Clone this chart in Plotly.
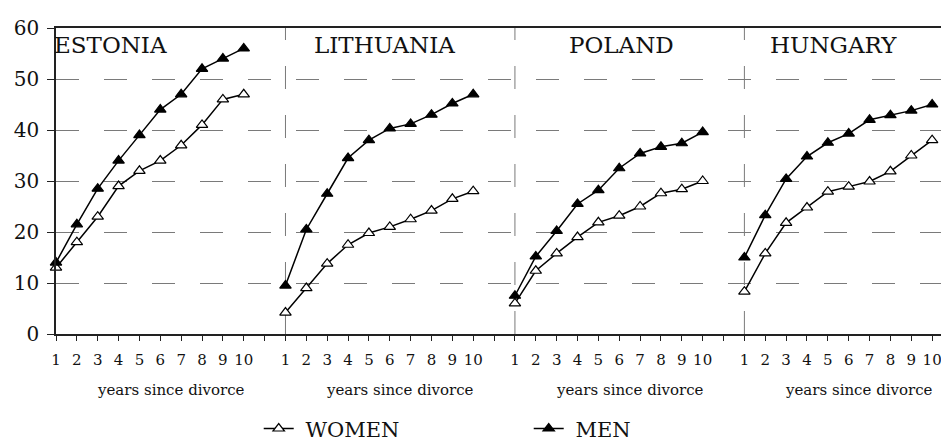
import plotly.graph_objects as go

countries = ["ESTONIA", "LITHUANIA", "POLAND", "HUNGARY"]
years = [1, 2, 3, 4, 5, 6, 7, 8, 9, 10]

men_estonia = [14, 21.5, 28.5, 34, 39, 44, 47, 52, 54, 56]
women_estonia = [13, 18, 23, 29, 32, 34, 37, 41, 46, 47]
men_lithuania = [9.5, 20.5, 27.5, 34.5, 38, 40.3, 41.2, 43, 45.2, 47]
women_lithuania = [4.2, 9, 13.8, 17.5, 19.8, 21, 22.5, 24.2, 26.5, 28]
men_poland = [7.5, 15.2, 20.2, 25.5, 28.2, 32.5, 35.4, 36.7, 37.4, 39.6]
women_poland = [6, 12.4, 15.8, 19, 21.9, 23.2, 25, 27.6, 28.4, 30]
men_hungary = [15, 23.3, 30.4, 34.8, 37.5, 39.3, 42, 42.9, 43.8, 45]
women_hungary = [8.3, 15.8, 21.8, 24.8, 27.9, 28.9, 29.9, 31.9, 35, 38]

y_ticks = [0, 10, 20, 30, 40, 50, 60]
x_title = "years since divorce"

men = [men_estonia, men_lithuania, men_poland, men_hungary]
women = [women_estonia, women_lithuania, women_poland, women_hungary]

STEP = len(years) + 1  # one blank slot between panels
starts = [i * STEP for i in range(len(countries))]


def build(series):
    xs, ys = [], []
    for s, vals in zip(starts, series):
        xs += [s + (yr - 1) for yr in years] + [None]
        ys += list(vals) + [None]
    return xs, ys


FONT = "DejaVu Serif"
fig = go.Figure()
wx, wy = build(women)
mx, my = build(men)
fig.add_trace(go.Scatter(
    x=wx, y=wy, mode="lines+markers", name=" WOMEN",
    line=dict(color="black", width=1.5),
    marker=dict(symbol="triangle-up", size=10, color="white",
                line=dict(color="black", width=1.2)),
    cliponaxis=False, connectgaps=False))
fig.add_trace(go.Scatter(
    x=mx, y=my, mode="lines+markers", name=" MEN",
    line=dict(color="black", width=1.5),
    marker=dict(symbol="triangle-up", size=10, color="black",
                line=dict(color="black", width=1.2)),
    cliponaxis=False, connectgaps=False))

total = starts[-1] + len(years)
tickvals = list(range(0, total + 1))
ticktext = []
for v in tickvals:
    r = v % STEP
    ticktext.append(str(r + 1) if r < len(years) and v < total else "")

shapes = []
for s in starts[1:]:
    shapes.append(dict(type="line", xref="x", yref="y", x0=s, x1=s,
                       y0=y_ticks[0], y1=y_ticks[-1],
                       line=dict(color="#7a7a7a", width=1, dash="23px,26px"),
                       layer="below"))

annotations = []
label_offsets = [0.0, 4.75, 5.1, 4.27]
label_shift = [-4, 0, 0, 0]
for i, (c, s) in enumerate(zip(countries, starts)):
    annotations.append(dict(
        x=s + label_offsets[i], y=56.6, xref="x", yref="y", text=c,
        xshift=label_shift[i],
        showarrow=False, xanchor="left" if i == 0 else "center",
        yanchor="middle", font=dict(family=FONT, size=23, color="#111")))
    annotations.append(dict(
        x=s + 5.5, y=-0.183, xref="x", yref="paper", text=x_title,
        showarrow=False, xanchor="center", yanchor="middle",
        font=dict(family=FONT, size=15, color="#111")))

fig.update_layout(
    width=949, height=443,
    margin=dict(l=48, r=2, t=20, b=100),
    paper_bgcolor="white", plot_bgcolor="white",
    font=dict(family=FONT, color="#111"),
    showlegend=True,
    legend=dict(orientation="h", x=0.226, y=-0.31, xanchor="left",
                yanchor="middle", font=dict(family=FONT, size=21),
                entrywidth=225, entrywidthmode="pixels",
                bgcolor="rgba(0,0,0,0)", itemsizing="trace"),
    xaxis=dict(range=[0, total], tickmode="array", tickvals=tickvals,
               ticktext=ticktext, ticks="outside", ticklen=5,
               tickcolor="#222", showgrid=False, zeroline=False,
               showline=True, linecolor="#222", linewidth=1.5, mirror=True,
               ticklabelstandoff=6,
               tickfont=dict(family=FONT, size=15, color="#111")),
    yaxis=dict(range=[y_ticks[0], y_ticks[-1]], tickmode="array",
               tickvals=y_ticks, ticks="outside", ticklen=7, tickcolor="#222",
               showgrid=True, gridcolor="#7a7a7a", gridwidth=1,
               griddash="23px,25px", zeroline=False,
               showline=True, linecolor="#222", linewidth=1.5, mirror=True,
               ticklabelstandoff=4,
               tickfont=dict(family=FONT, size=20, color="#111")),
    shapes=shapes, annotations=annotations,
)

fig.write_html("out.html")
